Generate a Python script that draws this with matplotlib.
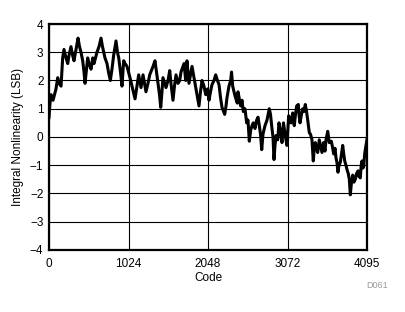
import matplotlib
matplotlib.use("Agg")
import matplotlib.pyplot as plt

plt.rcParams['font.family'] = ['Liberation Sans', 'DejaVu Sans']

# INL trace (code, LSB)
code = [0, 13, 26, 52, 90, 112, 129, 155, 176, 193, 219, 241, 258, 283, 303, 322,
        348, 374, 393, 412, 434, 451, 464, 483, 498, 515, 541, 563, 580, 618, 644,
        670, 689, 705, 721, 747, 766, 790, 811, 833, 863, 882, 898, 921, 940, 962,
        979, 1005, 1043, 1069, 1108, 1133, 1155, 1185, 1211, 1249, 1275, 1297, 1340,
        1365, 1385, 1404, 1423, 1439, 1455, 1468, 1507, 1533, 1555, 1571, 1597, 1616,
        1636, 1662, 1683, 1700, 1726, 1739, 1761, 1777, 1803, 1823, 1842, 1868, 1890,
        1913, 1932, 1951, 1971, 1996, 2018, 2041, 2061, 2080, 2099, 2125, 2147, 2170,
        2190, 2209, 2228, 2263, 2280, 2293, 2318, 2340, 2351, 2366, 2396, 2425, 2434,
        2469, 2486, 2503, 2524, 2546, 2563, 2580, 2598, 2615, 2631, 2653, 2675, 2692,
        2709, 2724, 2740, 2756, 2782, 2808, 2837, 2853, 2868, 2885, 2898, 2911, 2924,
        2946, 2962, 2982, 3001, 3020, 3043, 3065, 3087, 3104, 3117, 3139, 3159, 3175,
        3190, 3211, 3220, 3233, 3252, 3268, 3284, 3301, 3317, 3332, 3353, 3368, 3387,
        3404, 3417, 3430, 3445, 3461, 3481, 3497, 3516, 3536, 3555, 3568, 3590, 3610,
        3636, 3651, 3667, 3684, 3697, 3709, 3722, 3735, 3752, 3767, 3783, 3796, 3809,
        3825, 3838, 3855, 3868, 3881, 3896, 3912, 3928, 3945, 3961, 3980, 3993, 4010,
        4021, 4031, 4044, 4053, 4066, 4074, 4095]
inl = [0.7, 1.2, 1.5, 1.3, 1.7, 2.1, 1.9, 1.8, 2.8, 3.1, 2.8, 2.6, 2.9, 3.2, 2.9, 2.7,
       3.1, 3.5, 3.2, 3.0, 2.7, 2.3, 1.9, 2.4, 2.8, 2.6, 2.4, 2.8, 2.6, 3.0, 3.2,
       3.5, 3.2, 3.0, 2.8, 2.6, 2.3, 2.0, 2.4, 2.9, 3.4, 3.0, 2.8, 2.3, 1.8, 2.7,
       2.6, 2.5, 2.1, 1.8, 1.35, 1.8, 2.2, 1.75, 2.2, 1.6, 1.9, 2.2, 2.5,
       2.7, 2.3, 1.9, 1.5, 1.05, 1.6, 2.1, 1.75, 2.0, 2.35, 1.9, 1.3, 1.8,
       2.2, 1.9, 2.0, 2.3, 2.5, 2.6, 2.0, 2.7, 1.9, 2.2, 2.5, 2.1, 1.75,
       1.4, 1.1, 1.6, 2.0, 1.8, 1.5, 1.7, 1.3, 1.6, 1.85, 2.0, 2.2, 2.0,
       1.85, 1.4, 1.05, 0.8, 1.1, 1.4, 1.8, 2.0, 2.3, 1.8, 1.45, 1.2, 1.6,
       1.1, 1.3, 0.9, 1.0, 0.5, 0.6, -0.15, 0.25, 0.4, 0.5, 0.3, 0.6, 0.7,
       0.4, 0.1, -0.45, 0.1, 0.4, 0.6, 1.0, 0.8, 0.4, 0.0, -0.8, -0.3, 0.05,
       -0.1, 0.5, 0.2, -0.2, 0.5, 0.05, -0.3, 0.75, 0.55, 0.5, 0.85, 0.4, 0.8,
       1.1, 1.15, 0.8, 0.5, 0.8, 1.0, 0.9, 1.15, 0.9, 0.6, 0.15, 0.1, -0.1,
       -0.85, -0.4, -0.2, -0.4, -0.55, -0.1, -0.3, -0.55, -0.2, -0.5, -0.1, 0.2, -0.2,
       -0.15, -0.35, -0.6, -0.4, -0.75, -0.9, -1.25, -1.0, -0.9, -0.6, -0.3, -0.6, -0.85,
       -1.0, -1.15, -1.3, -1.5, -2.05, -1.6, -1.35, -1.6, -1.5, -1.3, -1.2, -1.4, -1.45,
       -1.0, -0.85, -1.1, -1.05, -0.6, -0.45, -0.1]

xticks = [0, 1024, 2048, 3072, 4095]
yticks = [-4, -3, -2, -1, 0, 1, 2, 3, 4]

fig = plt.figure(figsize=(4.05, 3.12), dpi=100)
ax = fig.add_axes([0.121, 0.199, 0.785, 0.724])
ax.plot(code, inl, color='black', lw=2.2)
ax.set_xlim(0, 4095)
ax.set_ylim(-4, 4)
ax.set_xticks(xticks)
ax.set_yticks(yticks)
ax.grid(True, color='black', lw=0.8)
ax.set_axisbelow(True)
ax.tick_params(length=0, labelsize=8.5)
ax.tick_params(axis='x', pad=6)
ax.tick_params(axis='y', pad=4)
for s in ax.spines.values():
    s.set_linewidth(1.6)
ax.set_xlabel('Code', fontsize=8.5, labelpad=1)
ax.set_ylabel('Integral Nonlinearity (LSB)', fontsize=8.5, labelpad=4)
fig.text(0.958, 0.078, 'D061', fontsize=6.5, color='#999999', ha='right')

fig.savefig('out.png', dpi=100)
